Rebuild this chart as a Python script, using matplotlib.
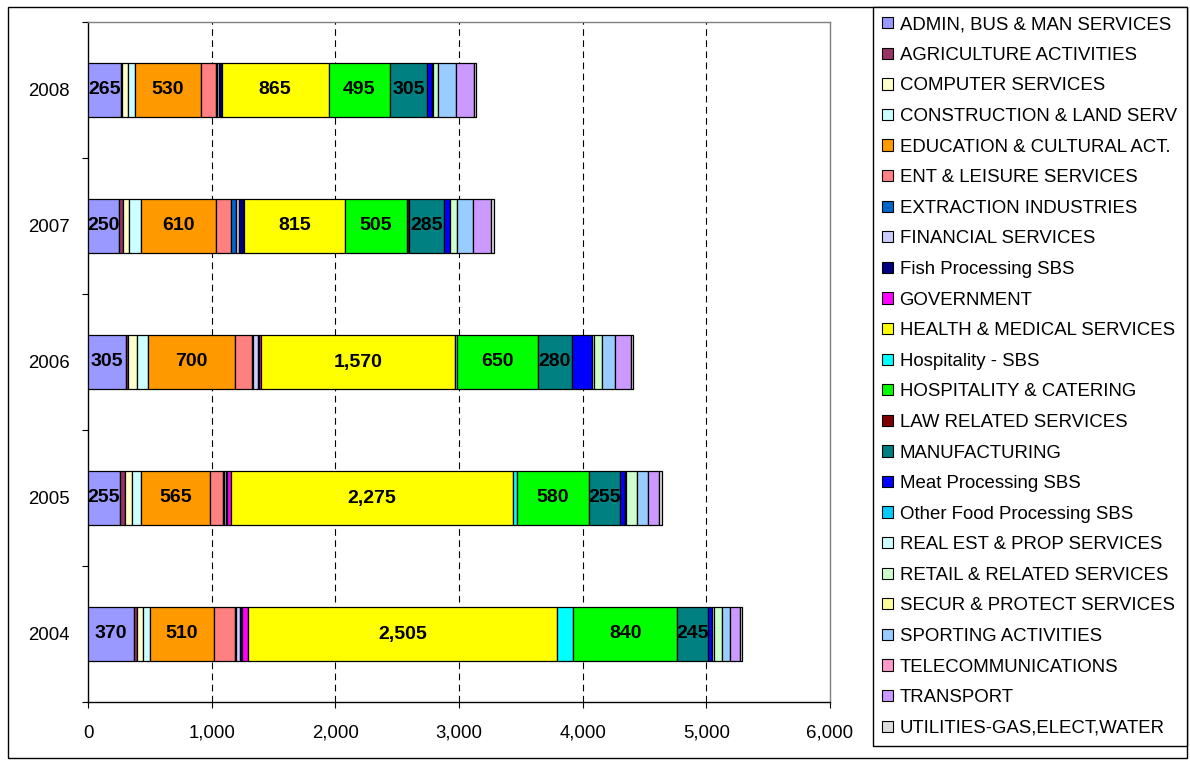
import numpy as np
import matplotlib
matplotlib.use("Agg")
import matplotlib.pyplot as plt
from matplotlib.patches import Patch, Rectangle
from matplotlib.ticker import FuncFormatter

plt.rcParams['font.family'] = ['Liberation Sans', 'DejaVu Sans']

years = ["2004", "2005", "2006", "2007", "2008"]

sectors = [
    "ADMIN, BUS & MAN SERVICES",
    "AGRICULTURE ACTIVITIES",
    "COMPUTER SERVICES",
    "CONSTRUCTION & LAND SERV",
    "EDUCATION & CULTURAL ACT.",
    "ENT & LEISURE SERVICES",
    "EXTRACTION INDUSTRIES",
    "FINANCIAL SERVICES",
    "Fish Processing SBS",
    "GOVERNMENT",
    "HEALTH & MEDICAL SERVICES",
    "Hospitality - SBS",
    "HOSPITALITY & CATERING",
    "LAW RELATED SERVICES",
    "MANUFACTURING",
    "Meat Processing SBS",
    "Other Food Processing SBS",
    "REAL EST & PROP SERVICES",
    "RETAIL & RELATED SERVICES",
    "SECUR & PROTECT SERVICES",
    "SPORTING ACTIVITIES",
    "TELECOMMUNICATIONS",
    "TRANSPORT",
    "UTILITIES-GAS,ELECT,WATER",
]

sector_colors = [
    "#9999FF", "#993366", "#FFFFCC", "#CCFFFF", "#FF9900", "#FF8080",
    "#0066CC", "#CCCCFF", "#000080", "#FF00FF", "#FFFF00", "#00FFFF",
    "#00FF00", "#800000", "#008080", "#0000FF", "#00CCFF", "#CCFFFF",
    "#CCFFCC", "#FFFF99", "#99CCFF", "#FF99CC", "#CC99FF", "#DDDDDD",
]

# one row per sector, columns follow `years`
admin        = [370, 255, 305, 250, 265]
agriculture  = [30, 45, 15, 30, 10]
computer     = [45, 55, 75, 55, 45]
construction = [60, 70, 90, 90, 60]
education    = [510, 565, 700, 610, 530]
ent_leisure  = [175, 100, 145, 120, 125]
extraction   = [10, 10, 5, 45, 5]
financial    = [30, 15, 40, 25, 20]
fish_proc    = [15, 10, 10, 35, 20]
government   = [45, 35, 15, 0, 0]
health       = [2505, 2275, 1570, 815, 865]
hosp_sbs     = [130, 35, 15, 0, 0]
hosp_cater   = [840, 580, 650, 505, 495]
law          = [0, 0, 0, 15, 0]
manufacturing = [245, 255, 280, 285, 305]
meat_proc    = [35, 35, 160, 45, 35]
other_food   = [0, 0, 0, 0, 0]
real_estate  = [15, 10, 20, 0, 10]
retail       = [65, 90, 65, 55, 40]
security     = [0, 0, 0, 0, 0]
sporting     = [65, 90, 105, 130, 145]
telecom      = [0, 0, 0, 0, 0]
transport    = [80, 85, 125, 150, 145]
utilities    = [15, 25, 20, 20, 20]

series = [admin, agriculture, computer, construction, education, ent_leisure,
          extraction, financial, fish_proc, government, health, hosp_sbs,
          hosp_cater, law, manufacturing, meat_proc, other_food, real_estate,
          retail, security, sporting, telecom, transport, utilities]

label_min = 240  # segments this large carry their value

W, H = 1190, 762
fig = plt.figure(figsize=(W / 100, H / 100), dpi=100)
ax = fig.add_axes([88 / W, 1 - 702 / H, (830 - 88) / W, (702 - 22) / H])

y = np.arange(len(years))
left = np.zeros(len(years))
for name, vals, col in zip(sectors, series, sector_colors):
    v = np.asarray(vals, dtype=float)
    m = v > 0
    if m.any():
        ax.barh(y[m], v[m], left=left[m], height=0.4, color=col,
                edgecolor="black", linewidth=0.9, zorder=3)
    for yi, (vv, ll) in enumerate(zip(v, left)):
        if vv >= label_min:
            ax.text(ll + vv / 2, yi, f"{vv:,.0f}", ha="center", va="center",
                    fontsize=14, fontweight="bold", color="black", zorder=4)
    left = left + v

ax.set_xlim(0, 6000)
ax.set_ylim(-0.5, len(years) - 0.5)
xt = np.arange(0, 6001, 1000)
ax.set_xticks(xt)
ax.xaxis.set_major_formatter(FuncFormatter(lambda v, p: f"{v:,.0f}"))
for xv in xt[1:-1]:
    ax.axvline(xv, color="black", linewidth=0.8, linestyle=(0, (6, 4)), zorder=1)

ax.set_yticks(y)
ax.set_yticklabels(years)
ax.set_yticks(np.arange(-0.5, len(years), 1.0), minor=True)
ax.tick_params(axis="y", which="major", length=0, pad=13, labelsize=13.4)
ax.tick_params(axis="y", which="minor", length=4.5, width=0.8, direction="out")
ax.tick_params(axis="x", which="major", length=4.5, width=0.8, direction="out",
               pad=12, labelsize=13.4)

for s in ("left", "bottom"):
    ax.spines[s].set_color("black")
    ax.spines[s].set_linewidth(1.0)
for s in ("top", "right"):
    ax.spines[s].set_color("#808080")
    ax.spines[s].set_linewidth(1.0)

handles = [Patch(facecolor=c, edgecolor="black", linewidth=0.8) for c in sector_colors]
leg = fig.legend(handles, sectors, loc="upper left",
                 bbox_to_anchor=(873 / W, 0, (1187 - 873) / W, 1 - 7 / H),
                 mode="expand", borderaxespad=0, fontsize=13.4,
                 frameon=True, fancybox=False, framealpha=1,
                 edgecolor="black", borderpad=0.5, labelspacing=0.73,
                 handlelength=0.55, handleheight=0.55, handletextpad=0.38)
leg.get_frame().set_linewidth(1.0)

fig.patches.append(Rectangle((8 / W, 1 - 758 / H), (1187 - 8) / W, (758 - 7) / H,
                             transform=fig.transFigure, fill=False,
                             edgecolor="black", linewidth=1.0, zorder=0))

fig.savefig("out.png", dpi=100)
